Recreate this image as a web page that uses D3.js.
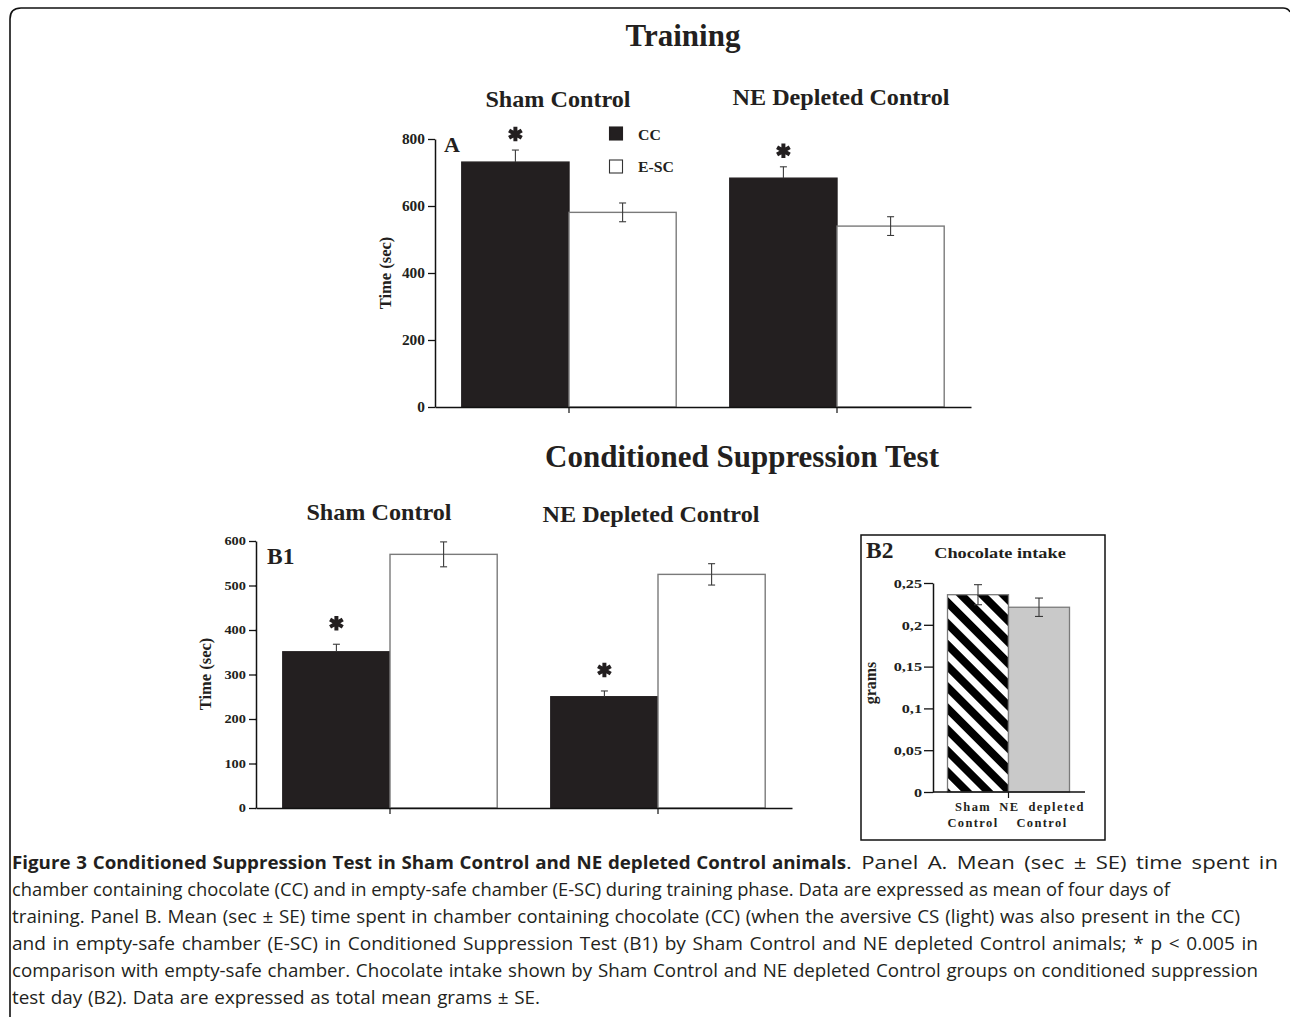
<!DOCTYPE html>
<html>
<head>
<meta charset="utf-8">
<script src="https://cdn.jsdelivr.net/npm/d3@7"></script>
<style>
  html, body { margin: 0; padding: 0; background: #fff; }
  svg { display: block; }
</style>
</head>
<body>
<svg id="chart" width="1290" height="1017"></svg>
<script>
// ---------------- DATA ----------------
const groups = ["Sham Control", "NE Depleted Control"];
const seriesNames = ["CC", "E-SC"];

const trainingCC = [731, 683];
const trainingCCse = [36, 34];
const trainingESC = [581, 540];
const trainingESCse = [28, 28];
const trainingSig = [true, true];

const testCC = [351, 250];
const testCCse = [17, 13];
const testESC = [570, 525];
const testESCse = [28, 24];
const testSig = [true, true];

const intakeGroups = ["Sham Control", "NE depleted Control"];
const intakeLabels = [["Sham", "Control"], ["NE  depleted", "Control"]];
const intake = [0.236, 0.221];
const intakeSe = [0.012, 0.011];

const ticksA = [0, 200, 400, 600, 800];
const ticksB1 = [0, 100, 200, 300, 400, 500, 600];
const ticksB2 = [0, 0.05, 0.1, 0.15, 0.2, 0.25];
const ticksB2Labels = ["0", "0,05", "0,1", "0,15", "0,2", "0,25"];

const captionBold = "Figure 3 Conditioned Suppression Test in Sham Control and NE depleted Control animals";
const captionLines = [
  ". Panel A. Mean (sec \u00B1 SE) time spent in",
  "chamber containing chocolate (CC) and in empty-safe chamber (E-SC) during training phase. Data are expressed as mean of four days of",
  "training. Panel B. Mean (sec \u00B1 SE) time spent in chamber containing chocolate (CC) (when the aversive CS (light) was also present in the CC)",
  "and in empty-safe chamber (E-SC) in Conditioned Suppression Test (B1) by Sham Control and NE depleted Control animals; * p < 0.005 in",
  "comparison with empty-safe chamber. Chocolate intake shown by Sham Control and NE depleted Control groups on conditioned suppression",
  "test day (B2). Data are expressed as total mean grams \u00B1 SE."
];

// ---------------- SETUP ----------------
const svg = d3.select("#chart");
const SERIF = "'Liberation Serif','Times New Roman',serif";
const BAR_DARK = "#231f20";
const BAR_EDGE = "#7a7a7a";
const ERR = "#3a3a3a";

function stext(g, x, y, str, size, sx, anchor, extra) {
  const t = g.append("text")
    .attr("transform", `translate(${x},${y}) scale(${sx},1)`)
    .attr("text-anchor", anchor || "middle")
    .attr("font-family", SERIF)
    .attr("font-weight", "bold")
    .attr("font-size", size)
    .attr("fill", "#231f20")
    .text(str);
  if (extra) extra(t);
  return t;
}

// Frame
svg.append("path")
  .attr("d", "M10,1017 Q10,1013 10,1008 L10,19 Q10,8 21,8 L1283,8 Q1288,8 1290,12")
  .attr("fill", "none").attr("stroke", "#111").attr("stroke-width", 1.6);

// pattern for striped bar
const defs = svg.append("defs");
const pat = defs.append("pattern")
  .attr("id", "stripes")
  .attr("patternUnits", "userSpaceOnUse")
  .attr("width", 15).attr("height", 15)
  .attr("patternTransform", "rotate(-45)");
pat.append("rect").attr("width", 15).attr("height", 15).attr("fill", "#fff");
pat.append("rect").attr("width", 7.5).attr("height", 15).attr("fill", "#000")
  .attr("shape-rendering", "crispEdges");

// generic grouped bar panel
function groupedPanel(cfg) {
  const g = svg.append("g");
  const y = d3.scaleLinear().domain(cfg.domain).range([cfg.y0, cfg.y1]);
  const x0 = d3.scaleBand().domain(groups).range([cfg.xAxis, cfg.xEnd]).padding(0);
  const bw = x0.bandwidth() * 0.4;
  const x1 = d3.scaleBand().domain(seriesNames).range([-bw, bw]).padding(0);

  const rows = groups.map((gname, i) => ({
    g: gname,
    vals: [
      { s: "CC", v: cfg.cc[i], se: cfg.ccSe[i] },
      { s: "E-SC", v: cfg.esc[i], se: cfg.escSe[i] }
    ],
    sig: cfg.sig[i]
  }));

  rows.forEach(r => {
    const cx = x0(r.g) + x0.bandwidth() / 2;
    r.vals.forEach(d => {
      g.append("rect")
        .attr("x", cx + x1(d.s))
        .attr("y", y(d.v))
        .attr("width", x1.bandwidth())
        .attr("height", y(0) - y(d.v))
        .attr("fill", d.s === "CC" ? BAR_DARK : "#fff")
        .attr("stroke", d.s === "CC" ? BAR_DARK : BAR_EDGE)
        .attr("stroke-width", 1.4);
      const ex = cx + x1(d.s) + x1.bandwidth() / 2;
      const lo = d.s === "CC" ? d.v : d.v - d.se;
      g.append("line").attr("x1", ex).attr("x2", ex)
        .attr("y1", y(d.v + d.se)).attr("y2", y(lo))
        .attr("stroke", ERR).attr("stroke-width", 1.1);
      g.append("line").attr("x1", ex - 3.5).attr("x2", ex + 3.5)
        .attr("y1", y(d.v + d.se)).attr("y2", y(d.v + d.se))
        .attr("stroke", ERR).attr("stroke-width", 1.1);
      if (d.s !== "CC") {
        g.append("line").attr("x1", ex - 3.5).attr("x2", ex + 3.5)
          .attr("y1", y(d.v - d.se)).attr("y2", y(d.v - d.se))
          .attr("stroke", ERR).attr("stroke-width", 1.1);
      }
      if (d.s === "CC" && r.sig) {
        g.append("path")
          .attr("d", d3.symbol(d3.symbolAsterisk, 150)())
          .attr("transform", `translate(${ex},${y(d.v + d.se) - cfg.starGap})`)
          .attr("fill", "none").attr("stroke", "#231f20")
          .attr("stroke-width", 4);
      }
    });
  });

  const ya = d3.axisLeft(y).tickValues(cfg.ticks).tickSize(7).tickSizeOuter(0).tickFormat(d3.format("d"));
  const yg = g.append("g").attr("transform", `translate(${cfg.xAxis},0)`).call(ya);
  yg.select(".domain").attr("stroke", "#111").attr("stroke-width", 1.5);
  yg.selectAll(".tick line").attr("stroke", "#111").attr("stroke-width", 1.3);
  yg.selectAll(".tick text")
    .attr("font-family", SERIF).attr("font-weight", "bold")
    .attr("font-size", cfg.tickSize).attr("fill", "#231f20")
    .attr("transform", `scale(${cfg.tickSx},1)`)
    .attr("x", -10 / cfg.tickSx);

  const xa = d3.axisBottom(x0).tickSize(6).tickSizeOuter(0).tickFormat("");
  const xg = g.append("g").attr("transform", `translate(0,${cfg.y0})`).call(xa);
  xg.select(".domain").attr("stroke", "#111").attr("stroke-width", 1.5);
  xg.selectAll(".tick line").attr("stroke", "#111").attr("stroke-width", 1.2);

  return { g, x0, y };
}

// ---------------- PANEL A ----------------
stext(svg, 683, 46, "Training", 31, 1);
stext(svg, 558, 107, "Sham Control", 23, 1.05);
stext(svg, 841, 105, "NE Depleted Control", 23, 1.05);

groupedPanel({
  domain: [0, 800], y0: 407, y1: 139, xAxis: 435, xEnd: 971,
  cc: trainingCC, ccSe: trainingCCse, esc: trainingESC, escSe: trainingESCse,
  sig: trainingSig, ticks: ticksA, tickSize: 14, tickSx: 1.1, starGap: 16
});
stext(svg, 444, 152, "A", 22, 1, "start");
stext(svg, 391, 273, "Time (sec)", 16.5, 1, "middle", t => t.attr("transform", "translate(391,273) rotate(-90)"));

// legend
const leg = svg.append("g");
seriesNames.forEach((s, i) => {
  leg.append("rect").attr("x", 609.5).attr("y", 127 + i * 33).attr("width", 13).attr("height", 13)
    .attr("fill", s === "CC" ? BAR_DARK : "#fff")
    .attr("stroke", s === "CC" ? BAR_DARK : "#333").attr("stroke-width", 1.1);
  stext(leg, 638, 140 + i * 32, s, 15.5, 1.02, "start");
});

// ---------------- PANEL B1 ----------------
stext(svg, 742, 467, "Conditioned Suppression Test", 31, 1);
stext(svg, 379, 520, "Sham Control", 23, 1.05);
stext(svg, 651, 522, "NE Depleted Control", 23, 1.05);

groupedPanel({
  domain: [0, 600], y0: 808, y1: 541, xAxis: 256, xEnd: 792,
  cc: testCC, ccSe: testCCse, esc: testESC, escSe: testESCse,
  sig: testSig, ticks: ticksB1, tickSize: 12, tickSx: 1.2, starGap: 21
});
stext(svg, 267, 564, "B1", 23, 1.02, "start");
stext(svg, 211, 674, "Time (sec)", 16.5, 1, "middle", t => t.attr("transform", "translate(211,674) rotate(-90)"));

// ---------------- PANEL B2 ----------------
const gB2 = svg.append("g");
gB2.append("rect").attr("x", 861).attr("y", 535).attr("width", 244).attr("height", 305)
  .attr("fill", "none").attr("stroke", "#111").attr("stroke-width", 1.5);
stext(gB2, 866, 558, "B2", 23, 1.02, "start");
stext(gB2, 1000, 558, "Chocolate intake", 15, 1.22);

const yB2 = d3.scaleLinear().domain([0, 0.25]).range([792, 583]);
const xB2 = d3.scaleBand().domain(intakeGroups).range([947.5, 1069.5]).padding(0);

intakeGroups.forEach((gname, i) => {
  gB2.append("rect")
    .attr("x", xB2(gname)).attr("y", yB2(intake[i]))
    .attr("width", xB2.bandwidth()).attr("height", yB2(0) - yB2(intake[i]))
    .attr("fill", i === 0 ? "url(#stripes)" : "#c9c9c9")
    .attr("stroke", BAR_EDGE).attr("stroke-width", 1.3);
  const ex = xB2(gname) + xB2.bandwidth() / 2;
  gB2.append("line").attr("x1", ex).attr("x2", ex)
    .attr("y1", yB2(intake[i] + intakeSe[i])).attr("y2", yB2(intake[i] - intakeSe[i]))
    .attr("stroke", ERR).attr("stroke-width", 1.1);
  [intake[i] + intakeSe[i], intake[i] - intakeSe[i]].forEach(v => {
    gB2.append("line").attr("x1", ex - 4).attr("x2", ex + 4)
      .attr("y1", yB2(v)).attr("y2", yB2(v))
      .attr("stroke", ERR).attr("stroke-width", 1.1);
  });
  intakeLabels[i].forEach((lab, k) => {
    stext(gB2, i === 0 ? 973 : 1042, 811 + k * 16, lab, 12.5, 1, "middle",
      t => t.attr("letter-spacing", 1.4).style("white-space", "pre"));
  });
});

const yaB2 = d3.axisLeft(yB2).tickValues(ticksB2).tickSize(9).tickSizeOuter(0)
  .tickFormat((d, i) => ticksB2Labels[i]);
const ygB2 = gB2.append("g").attr("transform", "translate(933,0)").call(yaB2);
ygB2.select(".domain").attr("stroke", "#111").attr("stroke-width", 1.5);
ygB2.selectAll(".tick line").attr("stroke", "#111").attr("stroke-width", 1.3);
ygB2.selectAll(".tick text")
  .attr("font-family", SERIF).attr("font-weight", "bold")
  .attr("font-size", 13.5).attr("fill", "#231f20")
  .attr("transform", "scale(1.2,1)").attr("x", -11 / 1.2);

gB2.append("line").attr("x1", 933).attr("x2", 1085).attr("y1", yB2(0)).attr("y2", yB2(0))
  .attr("stroke", "#111").attr("stroke-width", 1.5);
gB2.append("line").attr("x1", xB2(intakeGroups[1])).attr("x2", xB2(intakeGroups[1]))
  .attr("y1", yB2(0)).attr("y2", yB2(0) + 6).attr("stroke", "#111").attr("stroke-width", 1.2);
stext(gB2, 876, 683, "grams", 16, 1, "middle", t => t.attr("transform", "translate(876,683) rotate(-90)"));

// ---------------- CAPTION ----------------
const lineEnds = [1278, 1170, 1240, 1258, 1258, 540];
const boldEnd = 846;
const cap = svg.append("g").attr("font-family", "'Open Sans', sans-serif").attr("font-size", 18.5).attr("fill", "#231f20");

// Fit a caption line: part of the gap goes to word spacing, the rest to a gentle glyph stretch.
function fitLine(sel, target) {
  const n = sel.node();
  const L = n.getComputedTextLength();
  const spaces = (n.textContent.match(/ /g) || []).length;
  const extra = target - L;
  if (extra > 0 && spaces > 0) {
    sel.attr("word-spacing", Math.min(3, (extra * 0.5) / spaces));
  }
  sel.attr("textLength", target).attr("lengthAdjust", "spacingAndGlyphs");
}

const b1 = cap.append("text").attr("x", 12).attr("y", 869).attr("font-weight", "bold").text(captionBold);
fitLine(b1, boldEnd - 12);
const n1 = cap.append("text").attr("x", boldEnd).attr("y", 869).text(captionLines[0]);
fitLine(n1, lineEnds[0] - boldEnd);
captionLines.slice(1).forEach((s, i) => {
  const t = cap.append("text").attr("x", 12).attr("y", 896 + i * 27).text(s);
  fitLine(t, lineEnds[i + 1] - 12);
});
</script>
</body>
</html>
